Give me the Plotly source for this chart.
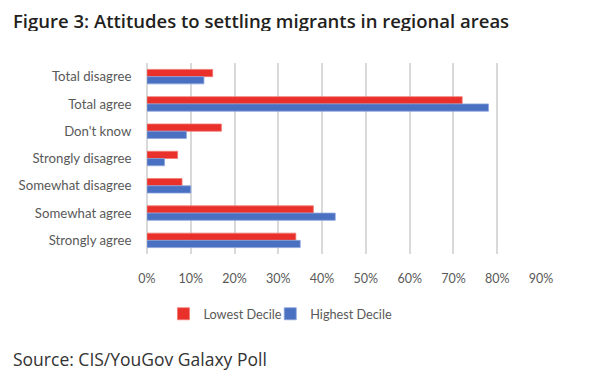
import plotly.graph_objects as go

categories = ["Total disagree", "Total agree", "Don't know", "Strongly disagree",
              "Somewhat disagree", "Somewhat agree", "Strongly agree"]
lowest_decile = [15, 72, 17, 7, 8, 38, 34]
highest_decile = [13, 78, 9, 4, 10, 43, 35]
tick_values = [0, 10, 20, 30, 40, 50, 60, 70, 80, 90]
tick_labels = ["0%", "10%", "20%", "30%", "40%", "50%", "60%", "70%", "80%", "90%"]

# page body has an 8px margin; work in screen pixels and convert
OFF = 8
W, H = 598 - OFF, 373 - OFF
L = 146.5 - OFF
R = 598 - 541.3
T = 63 - OFF
B = H - (254 - OFF)
pw, ph = W - L - R, H - T - B

def px_x(x):
    return (x - OFF - L) / pw

def px_y(y):
    return (H - B - (y - OFF)) / ph

fig = go.Figure()
fig.add_trace(go.Bar(y=categories, x=lowest_decile, orientation="h", name="Lowest Decile",
                     legend="legend",
                     marker=dict(color="#E9302A", line=dict(color="#F07A72", width=0.8))))
fig.add_trace(go.Bar(y=categories, x=highest_decile, orientation="h", name="Highest Decile",
                     legend="legend2",
                     marker=dict(color="#4A70C1", line=dict(color="#8AA3DA", width=0.8))))

legend_style = dict(orientation="h", yanchor="middle", xanchor="left",
                    font=dict(size=12.7, color="#595959"), bgcolor="rgba(0,0,0,0)")

fig.update_layout(
    width=W, height=H, autosize=False,
    margin=dict(l=L, r=R, t=T, b=B, pad=0, autoexpand=False),
    paper_bgcolor="white", plot_bgcolor="white",
    barmode="group", bargap=0.47, bargroupgap=0,
    font=dict(family="Lato, Open Sans, sans-serif", color="#595959", size=12),
    showlegend=True,
    legend=dict(x=px_x(163), y=px_y(314), **legend_style),
    legend2=dict(x=px_x(270), y=px_y(314), **legend_style),
    xaxis=dict(range=[0, 90], tickvals=tick_values, ticktext=tick_labels, automargin=False,
               showgrid=True, gridcolor="#D9D9D9", gridwidth=1.5,
               zeroline=True, zerolinecolor="#D9D9D9", zerolinewidth=1.5,
               showline=False, ticks="outside", ticklen=13, tickcolor="rgba(0,0,0,0)",
               tickfont=dict(family="Lato, sans-serif", size=12.5, color="#595959"),
               fixedrange=True),
    yaxis=dict(autorange="reversed", showgrid=False, zeroline=False, showline=False, automargin=False,
               ticks="outside", ticklen=12, tickcolor="rgba(0,0,0,0)",
               tickfont=dict(family="Lato, sans-serif", size=13.2, color="#595959"),
               fixedrange=True),
    annotations=[
        dict(text="Figure 3: Attitudes to settling migrants in regional areas",
             xref="paper", yref="paper", x=px_x(10), y=px_y(19.5), xanchor="left", yanchor="middle",
             height=22, valign="middle",
             showarrow=False, font=dict(family="Open Sans, sans-serif", size=18.5, color="#231F20", weight=600)),
        dict(text="Source: CIS/YouGov Galaxy Poll",
             xref="paper", yref="paper", x=px_x(10), y=px_y(359), xanchor="left", yanchor="middle",
             showarrow=False, font=dict(family="Open Sans, sans-serif", size=17.5, color="#333333")),
    ],
)

fig.write_html("out.html")
